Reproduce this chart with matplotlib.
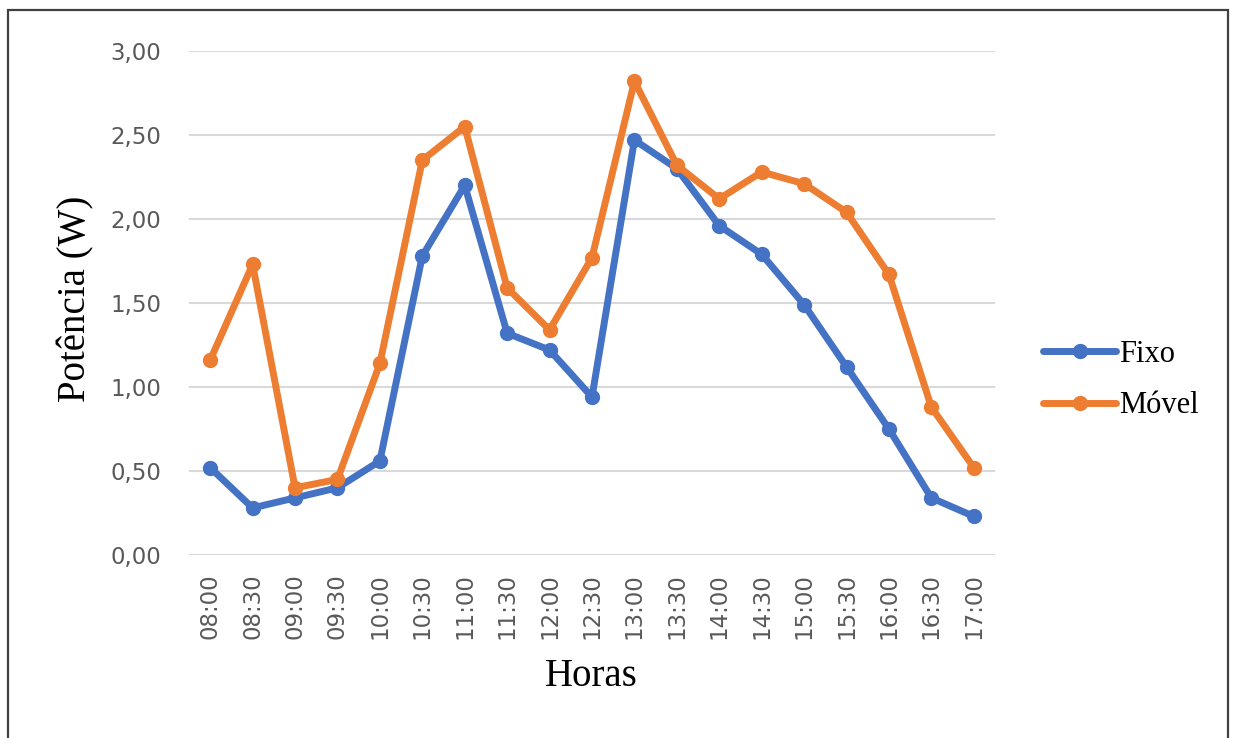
import matplotlib
matplotlib.use("Agg")
import matplotlib.pyplot as plt
from matplotlib.patches import Rectangle

# potência medida a cada meia hora
horas = ["08:00", "08:30", "09:00", "09:30", "10:00", "10:30", "11:00", "11:30", "12:00",
         "12:30", "13:00", "13:30", "14:00", "14:30", "15:00", "15:30", "16:00", "16:30", "17:00"]
fixo = [0.52, 0.28, 0.34, 0.40, 0.56, 1.78, 2.20, 1.32, 1.22, 0.94,
        2.47, 2.30, 1.96, 1.79, 1.49, 1.12, 0.75, 0.34, 0.23]
movel = [1.16, 1.73, 0.40, 0.45, 1.14, 2.35, 2.55, 1.59, 1.34, 1.77,
         2.82, 2.32, 2.12, 2.28, 2.21, 2.04, 1.67, 0.88, 0.52]
yticks = [0, 0.5, 1.0, 1.5, 2.0, 2.5, 3.0]

W, H = 1235, 738
fig = plt.figure(figsize=(W / 100, H / 100), dpi=100)
ax = fig.add_axes([189 / W, 1 - 555 / H, (995 - 189) / W, (555 - 51) / H])

x = list(range(len(horas)))
ax.plot(x, fixo, color="#4472C4", lw=5, marker="o", ms=10, label="Fixo",
        solid_joinstyle="round", solid_capstyle="round", zorder=3)
ax.plot(x, movel, color="#ED7D31", lw=5, marker="o", ms=10, label="Móvel",
        solid_joinstyle="round", solid_capstyle="round", zorder=3)

ax.set_xlim(-0.5, len(horas) - 0.5)
ax.set_ylim(0, 3)
ax.set_yticks(yticks)
ax.set_yticklabels([f"{v:.2f}".replace(".", ",") for v in yticks])
ax.set_xticks(x)
ax.set_xticklabels(horas, rotation=90)
ax.tick_params(axis="y", length=0, pad=20, labelsize=16.5, labelcolor="#595959")
ax.tick_params(axis="x", length=0, pad=13, labelsize=16.5, labelcolor="#595959")
ax.grid(axis="y", color="#D9D9D9", lw=1.5)
ax.set_axisbelow(True)
for s in ax.spines.values():
    s.set_visible(False)

fig.text(76 / W, 1 - 299 / H, "Potência (W)", rotation=90, ha="center", va="center",
         family="Liberation Serif", fontsize=28)
fig.text(591 / W, 1 - 676 / H, "Horas", ha="center", va="center",
         family="Liberation Serif", fontsize=28)

fig.legend(loc="center left", bbox_to_anchor=(1043 / W, 1 - 380 / H), frameon=False,
           prop={"family": "Liberation Serif", "size": 22}, handlelength=2.4,
           handletextpad=0.1, labelspacing=0.75, borderpad=0, borderaxespad=0)

# moldura do gráfico
fig.patches.append(Rectangle((8 / W, -0.01), (1228 - 8) / W, 1 - 10 / H + 0.01,
                             transform=fig.transFigure, fill=False,
                             edgecolor="#404040", lw=1.6))

fig.savefig("out.png", dpi=100, facecolor="white")
